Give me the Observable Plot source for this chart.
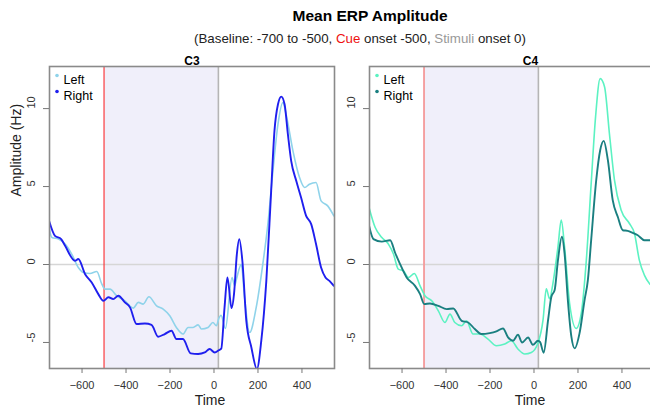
<!DOCTYPE html>
<html>
<head>
<meta charset="utf-8">
<script src="https://cdn.jsdelivr.net/npm/d3@7"></script>
<script src="https://cdn.jsdelivr.net/npm/@observablehq/plot@0.6"></script>
<style>
  html, body { margin: 0; padding: 0; background: #fff; overflow: hidden; }
  #wrap { position: relative; width: 700px; height: 411px; font-family: "Liberation Sans", Arial, sans-serif; }
  .abs { position: absolute; }
  #title { left: 0; width: 740px; top: 7px; text-align: center; font-weight: bold; font-size: 15.5px; color: #000; }
  #subtitle { left: 0; width: 720px; top: 31px; text-align: center; font-size: 13.3px; color: #222; }
</style>
</head>
<body>
<div id="wrap">
  <div id="title" class="abs">Mean ERP Amplitude</div>
  <div id="subtitle" class="abs">(Baseline: -700 to -500, <span style="color:#ee1111">Cue</span> onset -500, <span style="color:#999">Stimuli</span> onset 0)</div>
  <div id="p1" class="abs" style="left:0;top:0"></div>
  <div id="p2" class="abs" style="left:320px;top:0"></div>
</div>
<script>
// ---- data (time ms, amplitude) ----
const panelNames = ["C3", "C4"];
const seriesNames = ["Left", "Right"];
const xTicks = [-600, -400, -200, 0, 200, 400];
const yTicks = [-5, 0, 5, 10];
const cueOnset = -500;
const stimLine = 20;
const xDomain = [-748, 548];
const yDomain = [-6.67, 12.7];

const c3Left = [[-749,2.3],[-737,1.73],[-707,1.63],[-677,1.31],[-647,0.67],[-617,-0.19],[-594,-0.51],[-564,-0.58],[-533,-0.45],[-510,-1.26],[-495,-1.58],[-473,-1.58],[-443,-2.0],[-405,-2.33],[-367,-2.8],[-344,-2.43],[-322,-2.54],[-296,-2.07],[-261,-2.65],[-231,-2.86],[-201,-3.29],[-171,-4.04],[-141,-4.46],[-118,-4.04],[-95,-4.04],[-72,-3.87],[-57,-4.14],[-27,-4.04],[-5,-3.72],[11,-3.93],[22,-3.45],[32,-3.25],[52,-4.1],[82,-0.83],[94,-1.35],[104,-0.83],[124,0.0],[139,-2.11],[162,-4.36],[192,-2.75],[222,0.03],[245,2.59],[268,6.0],[291,9.0],[313,10.38],[331,9.42],[359,7.29],[389,5.58],[412,4.94],[434,5.15],[464,5.26],[487,4.08],[517,3.76],[545,3.12]];
const c3Right = [[-749,2.76],[-723,1.84],[-695,1.63],[-677,1.2],[-632,0.24],[-617,0.35],[-586,-0.62],[-556,-1.15],[-526,-1.9],[-503,-2.33],[-480,-2.1],[-458,-2.22],[-435,-2.0],[-405,-2.43],[-382,-2.75],[-352,-3.82],[-314,-3.78],[-284,-3.87],[-254,-4.63],[-224,-4.46],[-193,-4.25],[-171,-4.78],[-141,-4.78],[-106,-5.7],[-72,-5.74],[-42,-5.64],[-20,-5.42],[3,-5.64],[22,-5.5],[33,-5.4],[48,-2.75],[61,-0.83],[80,-2.8],[91,-1.9],[104,0.67],[115,1.63],[129,0.24],[147,-3.61],[170,-5.32],[195,-6.7],[215,-4.9],[238,-1.05],[260,4.72],[275,8.57],[291,10.28],[306,10.77],[321,10.28],[336,8.36],[351,6.65],[374,5.37],[396,4.3],[419,3.12],[442,2.59],[464,1.31],[487,-0.19],[507,-0.83],[525,-1.05],[545,-1.37]];
const c4Left = [[-750,3.65],[-722,2.37],[-692,1.73],[-662,1.31],[-639,0.67],[-617,-0.3],[-594,-0.4],[-571,-0.83],[-544,-0.58],[-518,-1.37],[-496,-2.0],[-465,-2.33],[-435,-2.97],[-405,-3.72],[-382,-3.18],[-360,-3.72],[-329,-3.93],[-307,-3.61],[-277,-4.46],[-246,-4.46],[-209,-4.78],[-171,-5.21],[-133,-5.1],[-103,-4.89],[-73,-5.42],[-42,-5.74],[-12,-5.64],[17,-5.08],[41,-3.57],[56,-1.56],[71,-2.2],[86,-1.22],[109,1.13],[124,2.85],[139,1.13],[162,-2.5],[192,-4.1],[215,-3.14],[238,0.28],[260,5.19],[280,9.47],[301,11.92],[321,11.39],[343,8.4],[366,5.41],[396,3.49],[434,2.63],[457,1.99],[479,0.28],[502,-0.68],[525,-1.22],[548,-1.5]];
const c4Right = [[-750,2.48],[-730,1.63],[-692,1.47],[-654,1.56],[-632,0.77],[-609,0.03],[-579,-0.83],[-541,-1.37],[-518,-1.9],[-499,-2.54],[-473,-2.5],[-435,-2.65],[-397,-2.86],[-367,-2.82],[-329,-3.61],[-299,-3.72],[-269,-4.14],[-239,-4.46],[-201,-4.4],[-171,-4.29],[-141,-4.1],[-118,-4.68],[-95,-4.89],[-73,-4.51],[-54,-5.0],[-27,-4.68],[-5,-5.15],[18,-4.89],[28,-4.98],[44,-5.66],[64,-3.57],[79,-2.07],[94,-1.64],[109,0.28],[127,1.78],[139,0.71],[154,-2.28],[170,-4.63],[185,-5.38],[207,-4.42],[230,-2.28],[245,-1.0],[260,1.56],[283,5.41],[301,7.33],[317,7.93],[336,6.69],[358,4.13],[381,3.06],[404,2.2],[426,2.16],[449,2.03],[472,1.88],[502,1.56],[525,1.56],[548,1.4]];

const panels = [
  {name: panelNames[0], series: [c3Left, c3Right], colors: ["#8fd3ea", "#1f1fee"], widths: [1.6, 1.9], cue: "#ff1a1a", cueW: 1, titleDx: 0, showYLabel: true},
  {name: panelNames[1], series: [c4Left, c4Right], colors: ["#5cf2c2", "#1a7f80"], widths: [1.6, 1.9], cue: "#f59a9a", cueW: 1.8, titleDx: 18.5, showYLabel: false}
];

function makePanel(p) {
  const marks = [
    Plot.rect([{x1: cueOnset, x2: stimLine}], {x1: "x1", x2: "x2", fill: "#f0effa"}),
    Plot.ruleY([0], {stroke: "#d6d6d6", strokeWidth: 1.5}),
    Plot.ruleX([stimLine], {stroke: "#b5b5b5", strokeWidth: 1.6}),
    Plot.ruleX([cueOnset], {stroke: p.cue, strokeWidth: p.cueW}),
    ...p.series.map((s, i) => Plot.line(s, {x: d => d[0], y: d => d[1], stroke: p.colors[i], strokeWidth: p.widths[i], curve: "monotone-x", clip: true})),
    Plot.frame({stroke: "#8a8a8a", strokeWidth: 1.6}),
    Plot.axisX({ticks: xTicks, tickSize: 5, tickPadding: 8, label: null, stroke: "#777", fill: "#333", fontSize: 11}),
    Plot.axisY({ticks: yTicks, tickSize: 6, tickFormat: () => "", label: null, stroke: "#777"}),
    Plot.text(yTicks, {y: d => d, text: d => String(d), frameAnchor: "left", dx: -18, rotate: -90, fill: "#333", fontSize: 11}),
    Plot.text([p.name], {frameAnchor: "top", dx: p.titleDx, dy: -10.5, fontWeight: "bold", fontSize: 12, fill: "#000"}),
    Plot.text(["Time"], {frameAnchor: "bottom", dx: 18, dy: 36, fontSize: 14, fill: "#222"}),
    ...seriesNames.map((n, i) => Plot.dot([n], {frameAnchor: "top-left", dx: 7.5, dy: 9 + i * 16, r: 1.8, fill: p.colors[i], stroke: "none"})),
    ...seriesNames.map((n, i) => Plot.text([n], {frameAnchor: "top-left", dx: 14, dy: 9 + i * 16, text: d => d, textAnchor: "start", fontSize: 12.5, fill: "#000"}))
  ];
  if (p.showYLabel) marks.push(Plot.text(["Amplitude (Hz)"], {frameAnchor: "left", dx: -33, dy: -21, rotate: -90, fontSize: 14, fill: "#222"}));
  return Plot.plot({
    width: 340,
    height: 411,
    marginLeft: 49,
    marginRight: 6,
    marginTop: 66,
    marginBottom: 43,
    x: {domain: xDomain},
    y: {domain: yDomain},
    style: {fontFamily: "Liberation Sans, Arial, sans-serif", fontSize: "11px", background: "transparent", overflow: "visible"},
    marks
  });
}

document.getElementById("p1").appendChild(makePanel(panels[0]));
document.getElementById("p2").appendChild(makePanel(panels[1]));
</script>
</body>
</html>
